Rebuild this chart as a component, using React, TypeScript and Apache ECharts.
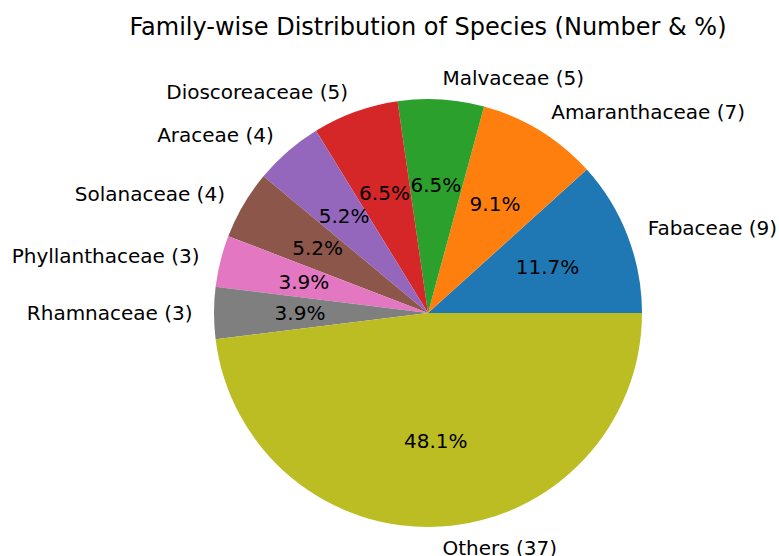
import React, { useEffect, useRef } from "react";
import * as echarts from "echarts";

const families = [
  "Fabaceae",
  "Amaranthaceae",
  "Malvaceae",
  "Dioscoreaceae",
  "Araceae",
  "Solanaceae",
  "Phyllanthaceae",
  "Rhamnaceae",
  "Others",
];
const speciesCounts = [9, 7, 5, 5, 4, 4, 3, 3, 37];
const sliceColors = [
  "#1f77b4",
  "#ff7f0e",
  "#2ca02c",
  "#d62728",
  "#9467bd",
  "#8c564b",
  "#e377c2",
  "#7f7f7f",
  "#bcbd22",
];
const titleText = "Family-wise Distribution of Species (Number & %)";

const FONT = "DejaVu Sans";
const CX = 428;
const CY = 313;
const R = 214;

export default function App() {
  const ref = useRef<HTMLDivElement>(null);
  useEffect(() => {
    document.body.style.margin = "0";
    if (!ref.current) return;
    const chart = echarts.init(ref.current, null, { renderer: "svg" });
    const total = speciesCounts.reduce((a, b) => a + b, 0);
    const data = families.map((n, i) => ({
      name: n,
      value: speciesCounts[i],
      itemStyle: { color: sliceColors[i] },
    }));
    const ghost = families.map((n, i) => ({
      name: n,
      value: speciesCounts[i],
      itemStyle: { color: "rgba(0,0,0,0)" },
    }));
    chart.setOption({
      animation: false,
      backgroundColor: "#ffffff",
      title: {
        text: titleText,
        left: CX,
        top: 15,
        padding: 0,
        textAlign: "center",
        textStyle: {
          fontFamily: FONT,
          fontSize: 24,
          fontWeight: "normal",
          color: "#000",
        },
      },
      series: [
        {
          type: "pie",
          center: [CX, CY],
          radius: R,
          startAngle: 0,
          clockwise: false,
          avoidLabelOverlap: false,
          silent: true,
          emphasis: { disabled: true },
          itemStyle: { borderWidth: 0 },
          label: {
            show: true,
            position: "outside",
            distanceToLabelLine: 0,
            formatter: (p: any) => `${p.name} (${p.value})`,
            fontFamily: FONT,
            fontSize: 20,
            color: "#000",
          },
          labelLine: { show: false, length: R * 0.1, length2: 0 },
          data,
        },
        {
          type: "pie",
          center: [CX, CY],
          radius: [0, 250],
          startAngle: 0,
          clockwise: false,
          avoidLabelOverlap: false,
          silent: true,
          emphasis: { disabled: true },
          label: {
            show: true,
            position: "inside",
            formatter: (p: any) => `${((p.value / total) * 100).toFixed(1)}%`,
            fontFamily: FONT,
            fontSize: 20,
            color: "#000",
          },
          labelLine: { show: false },
          data: ghost,
        },
      ],
    });
    return () => chart.dispose();
  }, []);
  return <div ref={ref} style={{ width: 779, height: 556 }} />;
}
